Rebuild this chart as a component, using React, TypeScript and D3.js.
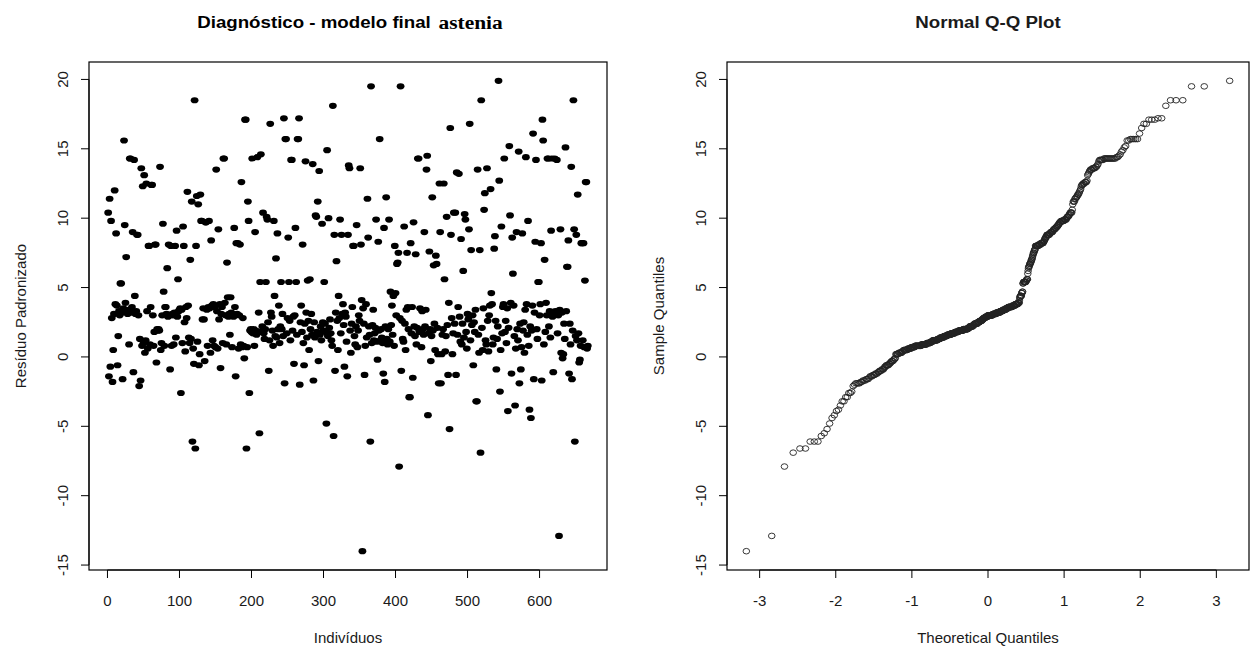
import React from 'react';
import * as d3 from 'd3';

// standardized residuals, in the order of the individuals
const residuos: number[] = [
  10.4, -1.4, 11.4, -0.7, 9.8, 2.8, -1.8, 0.5, 3.1, 12.0,
  3.8, 8.9, 3.7, -0.6, 1.5, 3.3, 3.0, 5.3, 5.3, 3.2,
  -1.6, 3.5, 15.6, 9.5, 3.9, 7.2, 3.3, 3.1, 3.4, 0.9,
  14.3, 14.3, 3.2, 3.6, 9.0, -1.1, 14.2, 4.4, 3.1, 3.3,
  8.8, 8.8, 3.0, -2.1, 1.3, -1.7, 13.6, 0.8, 12.3, 1.0,
  13.1, 0.3, 1.2, 12.5, 3.3, 0.6, 8.0, 8.0, 0.9, 3.6,
  12.4, 12.4, 3.0, 0.8, 1.8, 8.1, 8.1, -0.4, 2.0, 1.9,
  2.0, 1.9, 13.7, 0.5, 1.0, 3.0, 9.6, 4.7, 0.8, 3.6,
  3.6, 3.1, 6.4, 2.9, 8.1, 3.0, -0.9, 8.0, 0.8, 3.1,
  3.0, 0.9, 3.2, 8.0, 1.4, 9.1, 2.9, 5.6, 3.3, 3.4,
  3.5, -2.6, 3.4, 1.0, 9.4, 8.0, 2.5, 0.4, 3.6, 2.8,
  11.9, 3.7, 1.4, 1.0, 7.0, 1.3, 11.2, -6.1, 0.6, -0.5,
  18.5, -6.6, 8.0, 11.6, 1.1, 11.0, -0.6, 0.2, 11.7, 9.8,
  9.8, 2.7, 3.5, 2.7, -0.3, 9.7, 9.7, 3.4, 0.8, 3.6,
  9.8, 3.5, 0.3, 8.4, 3.7, 1.2, 3.8, 0.8, 3.6, 0.7,
  13.5, 3.3, 0.6, 9.2, 2.7, 3.8, -0.8, 3.1, 3.6, 1.0,
  14.3, 14.3, 3.9, 3.0, 0.9, 6.8, 4.3, 2.9, 3.1, 1.6,
  4.3, 3.2, 0.7, 3.0, 2.9, 9.3, 3.6, -1.4, 8.2, 3.1,
  8.2, 0.6, 3.0, 8.1, 0.9, 12.6, 0.7, 2.8, 0.8, -0.1,
  17.1, 17.1, -6.6, 0.7, 11.2, 9.8, -2.6, 1.9, 2.0, 1.8,
  14.3, 1.7, 2.0, 0.8, 9.0, 1.9, 1.6, 14.4, 1.8, 3.2,
  -5.5, 5.4, 14.6, 1.8, 2.2, 10.4, 1.7, 1.3, 2.0, 5.4,
  10.1, 9.9, 2.5, -1.0, 1.2, 16.8, 3.2, 2.9, 1.9, 0.8,
  9.8, 4.4, 1.5, 7.1, 1.4, 8.9, 2.0, 3.7, 1.0, 2.2,
  5.4, 2.0, 3.1, 1.5, 17.2, -1.9, 15.7, 15.7, 1.7, 2.8,
  8.6, 5.4, 2.6, 1.2, 14.2, 14.2, 1.9, 2.9, -0.5, 3.0,
  9.3, 5.4, 1.6, 15.7, 15.7, 17.2, -2.0, 2.5, 3.7, 1.8,
  8.1, 1.0, -0.6, 2.4, 14.1, 3.2, 1.4, 5.5, 2.6, 0.5,
  5.6, 2.0, 3.1, 1.6, 13.9, -1.7, 2.5, 1.4, 10.2, 10.1,
  1.8, 11.2, -0.3, 13.4, 1.6, 2.2, 1.2, 9.6, 2.5, 1.9,
  5.4, 2.4, 1.8, -4.8, 14.9, 1.5, 10.0, 2.1, 2.7, 1.7,
  1.2, 0.8, 18.1, -5.7, 8.8, -1.0, 3.2, 6.9, 2.6, 0.5,
  4.4, 2.8, 9.9, 1.7, 8.8, 3.1, 3.8, 2.3, -0.7, 3.2,
  2.9, 1.1, -1.4, 8.8, 13.8, 13.6, 1.9, 0.3, 2.4, 3.6,
  8.0, 8.0, 1.5, 0.9, 2.2, 9.5, 0.7, 1.9, 3.0, 2.6,
  13.6, 8.1, 4.1, -14.0, 3.5, 2.4, -1.3, 0.8, 3.8, 1.4,
  11.4, 8.6, 2.2, 1.6, -6.1, 19.5, 1.0, 2.3, 3.4, 1.2,
  1.7, 2.1, 9.9, 1.1, -0.2, 8.3, 1.9, 15.7, 1.2, 2.0,
  1.4, 1.0, -1.2, 9.3, -1.8, 2.2, 11.5, 1.3, 0.9, 2.0,
  9.9, 1.1, 4.7, 2.3, 3.7, 1.6, 4.4, 0.8, 8.0, 4.6,
  3.0, 6.7, 6.8, 7.5, -7.9, 2.8, 19.5, -1.0, 2.6, 1.3,
  1.1, 9.4, 2.4, 0.5, 3.4, 7.5, 3.6, 2.0, -2.9, -2.9,
  8.2, 1.7, 3.6, -1.5, 9.7, 2.2, 1.5, 7.4, 0.9, 2.1,
  14.3, 14.3, 1.8, 3.5, 1.9, 0.7, 3.3, 2.0, 1.6, 9.0,
  2.2, 3.4, 13.5, 14.5, -4.2, 1.7, 7.6, 2.0, -0.3, 1.5,
  11.5, 1.9, 6.6, 2.4, 0.5, 7.3, 6.7, 2.1, 0.2, -1.9,
  12.5, 9.0, -1.9, 0.2, 1.6, 2.0, 12.5, 5.6, 0.4, 1.5,
  10.1, 2.3, -1.3, 3.9, -5.2, 16.5, 8.8, 2.8, 0.2, 1.7,
  10.4, 2.4, 10.4, -1.3, 13.3, 1.6, 3.6, 13.2, 2.9, 1.1,
  8.5, 0.9, 2.4, 6.2, 1.4, 10.3, 9.9, 1.8, 0.6, 3.1,
  2.7, 9.2, 16.8, 1.2, 7.7, 2.3, 3.0, -0.6, 2.5, 1.8,
  3.4, -3.2, -3.2, 13.5, 1.6, 0.3, 7.7, -6.9, 18.5, 2.1,
  0.5, 3.5, 10.6, 11.8, 1.2, 0.9, 13.6, 2.6, 0.4, 3.0,
  3.7, 12.1, 4.6, 3.8, 0.9, 1.4, 7.8, 8.7, 2.6, -0.9,
  1.3, 2.2, 19.9, 12.7, -2.5, 0.5, 9.4, 1.7, 3.6, 3.8,
  14.3, 1.8, 2.6, 1.0, 3.5, -3.9, 2.1, 15.2, 10.2, 3.9,
  -1.2, 8.6, 6.0, 3.7, 1.5, -3.5, 0.6, 9.0, 2.0, 1.2,
  14.8, -1.9, 2.4, -0.9, 0.7, 8.9, 1.9, 2.5, 0.3, 3.4,
  14.4, 3.8, 1.6, 9.8, 0.8, -3.8, 2.2, -4.4, 1.9, 3.7,
  16.1, -1.6, 3.2, 8.3, 14.2, 2.0, 1.3, 5.4, 5.4, 3.0,
  3.8, 8.2, -1.7, 17.1, 15.6, 0.9, 7.0, 1.8, 3.9, 3.0,
  14.3, 14.3, 2.2, 3.3, 1.4, 9.1, 14.3, 2.9, -1.1, 3.1,
  14.3, 3.3, 3.2, 14.2, 1.7, 3.0, -12.9, 3.4, 9.2, 0.3,
  3.2, -0.1, 0.2, 2.4, 1.3, 15.1, 3.3, 6.5, 6.5, 8.4,
  -1.2, 2.4, 0.9, 13.7, -1.6, 1.9, 18.5, 9.2, -6.1, 1.5,
  8.8, 1.2, 11.7, 1.7, -0.4, -0.2, 0.8, 8.2, 8.2, 1.2,
  8.2, 0.7, 5.5, 12.6, 12.6, 0.6, 0.8,
];

const yTicks = [-15, -10, -5, 0, 5, 10, 15, 20];
const indexTicks = [0, 100, 200, 300, 400, 500, 600];
const qqTicks = [-3, -2, -1, 0, 1, 2, 3];

const SANS = '"Liberation Sans", Arial, sans-serif';
const SERIF = '"Liberation Serif", "Times New Roman", serif';
const INK = '#1a1a1a';

// inverse of the standard normal cdf (Acklam)
function qnorm(p: number): number {
  const a = [-39.6968302866538, 220.946098424521, -275.928510446969, 138.357751867269, -30.6647980661472, 2.50662827745924];
  const b = [-54.4760987982241, 161.585836858041, -155.698979859887, 66.8013118877197, -13.2806815528857];
  const c = [-0.00778489400243029, -0.322396458041136, -2.40075827716184, -2.54973253934373, 4.37466414146497, 2.93816398269878];
  const d = [0.00778469570904146, 0.32246712907004, 2.445134137143, 3.75440866190742];
  const pl = 0.02425;
  if (p < pl) {
    const q = Math.sqrt(-2 * Math.log(p));
    return (((((c[0] * q + c[1]) * q + c[2]) * q + c[3]) * q + c[4]) * q + c[5]) / ((((d[0] * q + d[1]) * q + d[2]) * q + d[3]) * q + 1);
  }
  if (p > 1 - pl) return -qnorm(1 - p);
  const q = p - 0.5;
  const r = q * q;
  return ((((((a[0] * r + a[1]) * r + a[2]) * r + a[3]) * r + a[4]) * r + a[5]) * q) /
    (((((b[0] * r + b[1]) * r + b[2]) * r + b[3]) * r + b[4]) * r + 1);
}

// R's default axis range: data extent widened by 4% each side
function rRange(ext: [number, number]): [number, number] {
  const pad = (ext[1] - ext[0]) * 0.04;
  return [ext[0] - pad, ext[1] + pad];
}

function Txt({ x, y, rot = 0, size = 15, sx = 1, weight = 'normal', children }: any) {
  return (
    <g transform={`translate(${x},${y}) scale(${sx},1)${rot ? ` rotate(${rot})` : ''}`}>
      <text textAnchor="middle" dominantBaseline="central" fontSize={size} fontWeight={weight} fontFamily={SANS} fill={INK}>
        {children}
      </text>
    </g>
  );
}

function Panel({ box, x, y, xTicks, pts, open, title, xlab, ylab }: any) {
  const { left, right, top, bottom } = box;
  const cx = (left + right) / 2;
  const cy = (top + bottom) / 2;
  return (
    <g>
      {pts.map((p: [number, number], i: number) => (
        <ellipse
          key={i}
          cx={x(p[0])}
          cy={y(p[1])}
          rx={open ? 3.3 : 3.9}
          ry={open ? 2.8 : 3.1}
          fill={open ? 'none' : '#000'}
          stroke={open ? '#222' : 'none'}
          strokeWidth={0.9}
        />
      ))}
      <rect x={left} y={top} width={right - left} height={bottom - top} fill="none" stroke="#000" strokeWidth={1.2} />
      {/* x axis */}
      <line x1={x(xTicks[0])} x2={x(xTicks[xTicks.length - 1])} y1={bottom} y2={bottom} stroke="#000" />
      {xTicks.map((t: number) => (
        <g key={t}>
          <line x1={x(t)} x2={x(t)} y1={bottom} y2={bottom + 8} stroke="#000" />
          <Txt x={x(t)} y={bottom + 30}>{String(t)}</Txt>
        </g>
      ))}
      {/* y axis */}
      <line x1={left} x2={left} y1={y(yTicks[0])} y2={y(yTicks[yTicks.length - 1])} stroke="#000" />
      {yTicks.map((t: number) => (
        <g key={t}>
          <line x1={left} x2={left - 8} y1={y(t)} y2={y(t)} stroke="#000" />
          <Txt x={left - 27} y={y(t)} rot={-90}>{String(t)}</Txt>
        </g>
      ))}
      <Txt x={cx} y={bottom + 67}>{xlab}</Txt>
      <Txt x={left - 69} y={cy} rot={-90}>{ylab}</Txt>
      {title}
    </g>
  );
}

export default function App() {
  const n = residuos.length;
  const yDomain = rRange(d3.extent(residuos) as [number, number]);

  // left panel: residual against individual index
  const boxL = { left: 89, right: 607, top: 62, bottom: 570 };
  const xL = d3.scaleLinear().domain(rRange([1, n])).range([boxL.left, boxL.right]);
  const yL = d3.scaleLinear().domain(yDomain).range([boxL.bottom, boxL.top]);
  const ptsL = residuos.map((v, i) => [i + 1, v]);

  // right panel: normal Q-Q
  const sorted = [...residuos].sort((a, b) => a - b);
  const theo = sorted.map((_, i) => qnorm((i + 1 - 0.5) / n));
  const boxR = { left: 727, right: 1249, top: 62, bottom: 570 };
  const xR = d3.scaleLinear().domain(rRange(d3.extent(theo) as [number, number])).range([boxR.left, boxR.right]);
  const yR = d3.scaleLinear().domain(yDomain).range([boxR.bottom, boxR.top]);
  const ptsR = sorted.map((v, i) => [theo[i], v]);

  const titleL = (
    <g transform={`translate(${(boxL.left + boxL.right) / 2 + 2},22) scale(1.1,1)`}>
      <text textAnchor="middle" dominantBaseline="central" fontWeight="bold" fill="#000">
        <tspan fontFamily={SANS} fontSize={17}>Diagnóstico - modelo final</tspan>
        <tspan fontFamily={SERIF} fontSize={19.5} dx={7}>astenia</tspan>
      </text>
    </g>
  );
  const titleR = (
    <Txt x={(boxR.left + boxR.right) / 2} y={22} size={17} sx={1.1} weight="bold">Normal Q-Q Plot</Txt>
  );

  return (
    <svg width={1256} height={648} style={{ position: 'absolute', left: 0, top: 0, background: '#fff' }}>
      <rect width={1256} height={648} fill="#fff" />
      <Panel box={boxL} x={xL} y={yL} xTicks={indexTicks} pts={ptsL} open={false}
        title={titleL} xlab="Indivíduos" ylab="Resíduo Padronizado" />
      <Panel box={boxR} x={xR} y={yR} xTicks={qqTicks} pts={ptsR} open={true}
        title={titleR} xlab="Theoretical Quantiles" ylab="Sample Quantiles" />
    </svg>
  );
}
